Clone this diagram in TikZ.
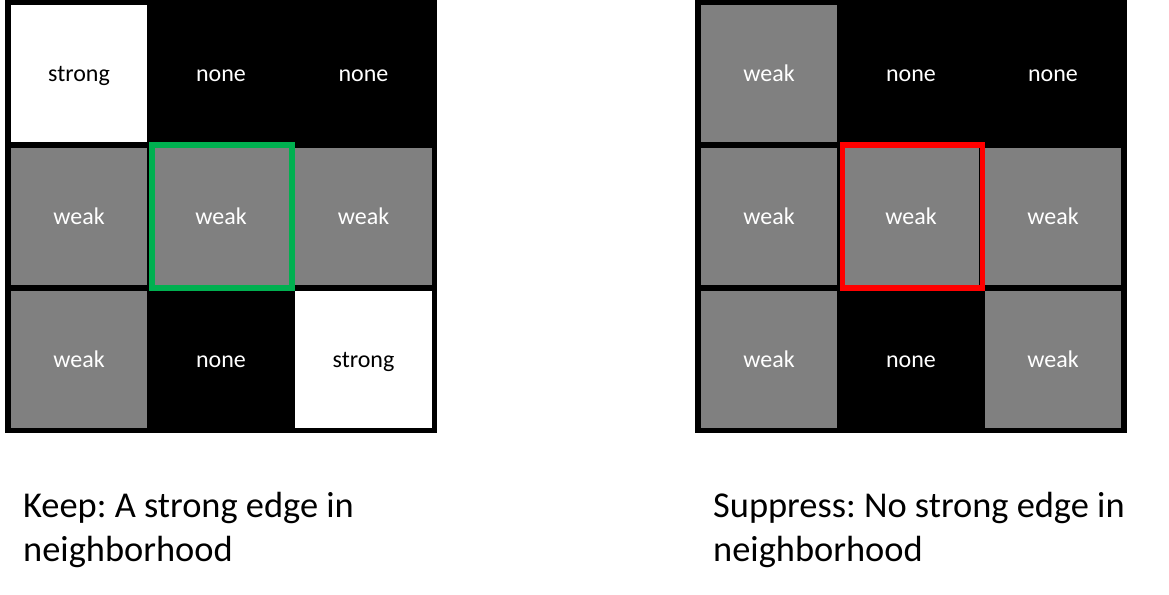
\documentclass[tikz,border=0pt]{standalone}
\usepackage{fontspec}
\setmainfont{Carlito}
\frenchspacing
\definecolor{cellgrey}{RGB}{128,128,128}
\definecolor{keepgreen}{RGB}{0,176,80}
\definecolor{suppred}{RGB}{255,0,0}
\begin{document}
\begin{tikzpicture}[x=1pt,y=-1pt,
  cell/.style={draw=black,line width=5.5pt,minimum width=142pt,minimum height=142.5pt,inner sep=0pt,text height=16pt,text depth=0pt,font=\fontsize{24}{28}\selectfont},
  strongcell/.style={cell,fill=white,text=black},
  weakcell/.style={cell,fill=cellgrey,text=white},
  nonecell/.style={cell,fill=black,text=white},
  highlight/.style={draw=#1,line width=5.5pt,minimum width=140pt,minimum height=143pt,inner sep=0pt},
  caption/.style={anchor=base west,inner sep=0pt,font=\fontsize{36.4}{44}\selectfont}
]
\useasboundingbox (0,0) rectangle (1169,594);
% left grid
\node[strongcell] (l11) at (79,73.75) {strong};
\node[nonecell]   (l12) at (221,73.75) {none};
\node[nonecell]   (l13) at (363.5,73.75) {none};
\node[weakcell]   (l21) at (79,216.5) {weak};
\node[weakcell]   (l22) at (221,216.5) {weak};
\node[weakcell]   (l23) at (363.5,216.5) {weak};
\node[weakcell]   (l31) at (79,359) {weak};
\node[nonecell]   (l32) at (221,359) {none};
\node[strongcell] (l33) at (363.5,359) {strong};
\node[highlight=keepgreen] (lh) at (222,216.5) {};
% right grid
\node[weakcell]   (r11) at (769,73.75) {weak};
\node[nonecell]   (r12) at (911,73.75) {none};
\node[nonecell]   (r13) at (1053,73.75) {none};
\node[weakcell]   (r21) at (769,216.5) {weak};
\node[weakcell]   (r22) at (911,216.5) {weak};
\node[weakcell]   (r23) at (1053,216.5) {weak};
\node[weakcell]   (r31) at (769,359) {weak};
\node[nonecell]   (r32) at (911,359) {none};
\node[weakcell]   (r33) at (1053,359) {weak};
\node[highlight=suppred] (rh) at (912.5,216.5) {};
% captions
\node[caption] (kcap) at (23,517) {\begin{tabular}[t]{@{}l@{}}Keep: A strong edge in\\neighborhood\end{tabular}};
\node[caption] (scap) at (713,517) {\begin{tabular}[t]{@{}l@{}}Suppress: No strong edge in\\neighborhood\end{tabular}};
\end{tikzpicture}
\end{document}
